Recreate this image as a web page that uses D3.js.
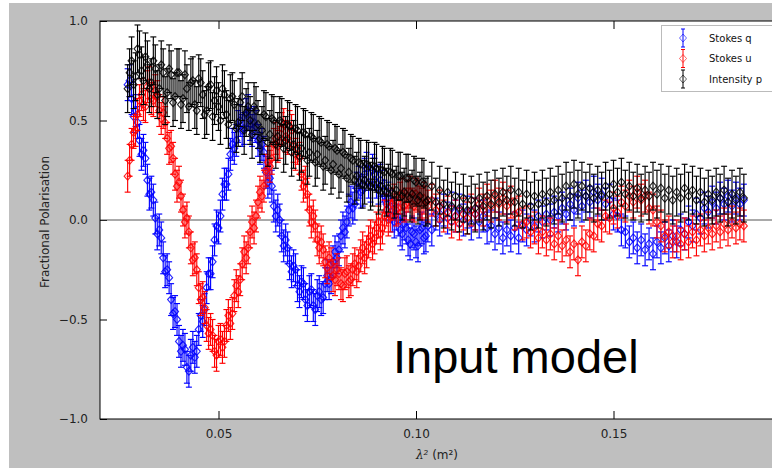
<!DOCTYPE html>
<html>
<head>
<meta charset="utf-8">
<script src="https://cdn.jsdelivr.net/npm/d3@7"></script>
<style>
  body { margin: 0; background: #fff; }
  svg { display: block; }
  .tick text { font-family: "DejaVu Sans", sans-serif; font-size: 12px; fill: #222; }
  .domain { display: none; }
</style>
</head>
<body>
<div class="plot"></div>
<script>
// lambda^2 grid (m^2)
var lam2 = [0.027,0.028,0.029,0.030,0.031,0.032,0.033,0.034,0.035,0.036,0.037,0.038,0.039,0.040,0.041,0.042,0.043,0.044,0.045,0.046,0.047,0.048,0.049,0.050,
  0.051,0.052,0.053,0.054,0.055,0.056,0.057,0.058,0.059,0.060,0.061,0.062,0.063,0.064,0.065,0.066,0.067,0.068,0.069,0.070,0.071,0.072,0.073,0.074,0.075,
  0.076,0.077,0.078,0.079,0.080,0.081,0.082,0.083,0.084,0.085,0.086,0.087,0.088,0.089,0.090,0.091,0.092,0.093,0.094,0.095,0.096,0.097,0.098,0.099,0.100,
  0.101,0.102,0.103,0.104,0.105,0.106,0.107,0.108,0.109,0.110,0.111,0.112,0.113,0.114,0.115,0.116,0.117,0.118,0.119,0.120,0.121,0.122,0.123,0.124,0.125,
  0.126,0.127,0.128,0.129,0.130,0.131,0.132,0.133,0.134,0.135,0.136,0.137,0.138,0.139,0.140,0.141,0.142,0.143,0.144,0.145,0.146,0.147,0.148,0.149,0.150,
  0.151,0.152,0.153,0.154,0.155,0.156,0.157,0.158,0.159,0.160,0.161,0.162,0.163,0.164,0.165,0.166,0.167,0.168,0.169,0.170,0.171,0.172,0.173,0.174,0.175,
  0.176,0.177,0.178,0.179,0.180,0.181,0.182,0.183];

var stokesQ = [0.68,0.61,0.55,0.40,0.35,0.20,0.14,0.01,-0.05,-0.19,-0.25,-0.40,-0.46,-0.61,-0.63,-0.74,-0.68,-0.69,-0.55,-0.51,-0.34,-0.27,-0.10,-0.04,
  0.13,0.18,0.33,0.36,0.47,0.45,0.53,0.48,0.49,0.40,0.38,0.24,0.21,0.07,0.05,-0.08,-0.10,-0.22,-0.23,-0.33,-0.31,-0.40,-0.36,-0.43,-0.38,
  -0.40,-0.32,-0.32,-0.21,-0.19,-0.08,-0.06,0.05,0.06,0.16,0.14,0.23,0.19,0.25,0.19,0.20,0.12,0.11,0.02,0.03,-0.05,-0.02,-0.10,-0.06,-0.11,
  -0.05,-0.09,-0.03,-0.05,0.03,0.00,0.05,0.01,0.06,0.02,0.05,0.00,0.04,-0.02,0.03,-0.01,0.02,-0.04,-0.03,-0.07,-0.04,-0.09,-0.05,-0.08,-0.04,
  -0.09,-0.03,-0.05,0.00,-0.03,0.02,-0.01,0.03,0.00,0.04,0.02,0.06,0.03,0.08,0.05,0.11,0.07,0.12,0.09,0.14,0.10,0.13,0.08,0.10,0.03,
  0.02,-0.05,-0.06,-0.11,-0.09,-0.14,-0.10,-0.15,-0.12,-0.17,-0.11,-0.14,-0.09,-0.13,-0.08,-0.11,-0.05,-0.07,-0.01,-0.03,0.03,0.01,0.06,0.04,0.09,
  0.06,0.11,0.08,0.12,0.07,0.11,0.08,0.10];

var stokesU = [0.22,0.38,0.45,0.60,0.58,0.67,0.61,0.65,0.55,0.54,0.41,0.37,0.23,0.19,0.05,0.01,-0.14,-0.19,-0.34,-0.39,-0.53,-0.55,-0.66,-0.61,
  -0.64,-0.53,-0.52,-0.38,-0.36,-0.22,-0.19,-0.06,-0.04,0.09,0.12,0.25,0.27,0.38,0.37,0.46,0.42,0.47,0.37,0.36,0.23,0.19,0.05,0.02,-0.10,
  -0.11,-0.21,-0.19,-0.28,-0.25,-0.32,-0.27,-0.31,-0.25,-0.26,-0.18,-0.19,-0.11,-0.12,-0.04,-0.07,0.02,0.00,0.08,0.05,0.11,0.07,0.12,0.08,0.13,
  0.09,0.11,0.07,0.10,0.05,0.07,0.02,0.04,-0.01,0.02,-0.02,0.03,0.01,0.05,0.03,0.08,0.05,0.10,0.07,0.12,0.08,0.11,0.07,0.09,0.03,
  0.04,-0.02,-0.01,-0.06,-0.04,-0.09,-0.06,-0.10,-0.07,-0.12,-0.08,-0.13,-0.10,-0.16,-0.12,-0.20,-0.11,-0.13,-0.07,-0.08,-0.02,-0.03,0.02,0.01,0.06,
  0.04,0.09,0.07,0.12,0.09,0.14,0.10,0.12,0.06,0.05,-0.01,-0.03,-0.08,-0.06,-0.11,-0.08,-0.12,-0.07,-0.11,-0.06,-0.10,-0.05,-0.08,-0.04,-0.07,
  -0.03,-0.06,-0.02,-0.05,-0.01,-0.04,-0.02,-0.03];

var intensityP = [0.66,0.80,0.72,0.83,0.70,0.78,0.69,0.76,0.66,0.74,0.64,0.73,0.62,0.74,0.61,0.66,0.69,0.58,0.71,0.63,0.55,0.68,0.60,0.57,
  0.66,0.53,0.61,0.58,0.49,0.62,0.54,0.50,0.57,0.48,0.45,0.52,0.43,0.50,0.42,0.49,0.40,0.47,0.38,0.45,0.36,0.43,0.34,0.41,0.33,
  0.39,0.30,0.37,0.28,0.35,0.26,0.33,0.24,0.30,0.22,0.28,0.20,0.27,0.19,0.26,0.17,0.24,0.16,0.23,0.15,0.22,0.14,0.21,0.13,0.19,
  0.12,0.18,0.10,0.17,0.09,0.15,0.08,0.14,0.07,0.12,0.06,0.11,0.05,0.10,0.06,0.11,0.07,0.12,0.08,0.13,0.09,0.14,0.10,0.15,0.09,
  0.14,0.08,0.13,0.07,0.12,0.08,0.13,0.09,0.14,0.10,0.15,0.11,0.17,0.12,0.18,0.13,0.17,0.12,0.16,0.11,0.15,0.12,0.17,0.13,0.18,
  0.14,0.19,0.13,0.17,0.12,0.16,0.11,0.15,0.12,0.17,0.13,0.16,0.11,0.15,0.10,0.14,0.11,0.16,0.12,0.15,0.10,0.14,0.09,0.13,0.10,
  0.14,0.11,0.15,0.09,0.13,0.10,0.14,0.11];

// extra samples between the above, where the channels are densest (short lambda^2)
var lam2Dense = [0.0275,0.0285,0.0295,0.0305,0.0315,0.0325,0.0335,0.0345,0.0355,0.0365,0.0375,0.0385,0.0395,0.0405,0.0415,0.0425,0.0435,0.0445,0.0455,
  0.0465,0.0475,0.0485,0.0495,0.0505,0.0515,0.0525,0.0535,0.0545,0.0555,0.0565,0.0575,0.0585,0.0595,0.0605,0.0615,0.0625,0.0635,0.0645,0.0655,
  0.0665,0.0675,0.0685,0.0695,0.0705,0.0715,0.0725,0.0735,0.0745,0.0755,0.0765,0.0775,0.0785,0.0795,0.0805,0.0815,0.0825,0.0835,0.0845,0.0855,
  0.0865,0.0875,0.0885,0.0895,0.0905,0.0915,0.0925,0.0935,0.0945,0.0955,0.0965,0.0975,0.0985,0.0995,0.1005,0.1015,0.1025];

var stokesQDense = [0.70,0.52,0.49,0.33,0.31,0.13,0.10,-0.07,-0.09,-0.26,-0.29,-0.47,-0.50,-0.66,-0.65,-0.76,-0.64,-0.66,-0.48,
  -0.45,-0.27,-0.21,-0.03,0.02,0.18,0.23,0.38,0.40,0.50,0.46,0.55,0.45,0.47,0.36,0.34,0.19,0.17,0.02,0.00,
  -0.13,-0.14,-0.26,-0.25,-0.36,-0.32,-0.43,-0.35,-0.45,-0.36,-0.39,-0.28,-0.29,-0.16,-0.15,-0.04,-0.01,0.09,0.08,0.19,
  0.15,0.26,0.17,0.23,0.16,0.17,0.08,0.07,-0.01,0.00,-0.07,-0.04,-0.12,-0.07,-0.13,-0.04,-0.08];

var stokesUDense = [0.30,0.44,0.53,0.63,0.57,0.69,0.60,0.62,0.51,0.49,0.36,0.31,0.17,0.12,-0.01,-0.06,-0.20,-0.25,-0.40,
  -0.44,-0.57,-0.58,-0.68,-0.60,-0.61,-0.48,-0.47,-0.33,-0.30,-0.16,-0.14,-0.01,0.02,0.14,0.17,0.29,0.31,0.41,0.39,
  0.48,0.41,0.45,0.33,0.31,0.17,0.13,-0.01,-0.03,-0.14,-0.15,-0.24,-0.22,-0.30,-0.27,-0.33,-0.26,-0.30,-0.22,-0.23,
  -0.14,-0.16,-0.08,-0.09,-0.01,-0.04,0.05,0.02,0.10,0.06,0.13,0.08,0.14,0.07,0.12,0.08,0.09];

var intensityPDense = [0.74,0.68,0.86,0.75,0.82,0.66,0.80,0.63,0.78,0.60,0.76,0.59,0.74,0.58,0.73,0.57,0.70,0.55,0.69,
  0.53,0.67,0.52,0.65,0.50,0.63,0.48,0.62,0.46,0.59,0.45,0.57,0.43,0.55,0.41,0.53,0.39,0.51,0.38,0.50,
  0.36,0.48,0.34,0.46,0.32,0.44,0.30,0.42,0.29,0.40,0.27,0.38,0.25,0.36,0.23,0.34,0.21,0.31,0.20,0.29,
  0.18,0.28,0.17,0.27,0.15,0.25,0.14,0.24,0.13,0.22,0.12,0.21,0.11,0.20,0.10,0.19,0.09];

var seriesNames = ["Stokes q", "Stokes u", "Intensity p"];
var seriesColors = ["#0000ff", "#ff0000", "#000000"];
var seriesErr = [0.08, 0.08, 0.12];
var xTicks = [0.05, 0.10, 0.15];
var yTicks = [-1.0, -0.5, 0.0, 0.5, 1.0];

var W = 772, H = 469;
var x = d3.scaleLinear().domain([0.02, 0.20]).range([100, 811]);
var y = d3.scaleLinear().domain([-1, 1]).range([419, 21]);

var svg = d3.select(".plot").append("svg").attr("width", W).attr("height", H);

// figure background
svg.append("rect").attr("x", 9).attr("y", 3).attr("width", W - 9).attr("height", 465).attr("fill", "#bfbfbf");
svg.append("rect").attr("x", 100).attr("y", 21).attr("width", 711).attr("height", 398).attr("fill", "#fff");

// axes, ticks inside
svg.append("g").attr("transform", "translate(0,419)")
  .call(d3.axisBottom(x).tickValues(xTicks).tickSize(-8).tickPadding(10).tickFormat(d3.format(".2f")));
svg.append("g").attr("transform", "translate(0,21)")
  .call(d3.axisTop(x).tickValues(xTicks).tickSize(-8).tickFormat(""));
svg.append("g").attr("transform", "translate(100,0)")
  .call(d3.axisLeft(y).tickValues(yTicks).tickSize(-7).tickPadding(12).tickFormat(function(d){ return d3.format(".1f")(d).replace("-", "\u2212"); }));

// zero line
svg.append("line").attr("x1", 100).attr("x2", 811).attr("y1", y(0)).attr("y2", y(0))
  .attr("stroke", "#555").attr("stroke-width", 1);

function diamond(cx, cy) {
  return "M" + cx + "," + (cy - 4) + "L" + (cx + 3.5) + "," + cy + "L" + cx + "," + (cy + 4) + "L" + (cx - 3.5) + "," + cy + "Z";
}

var plot = svg.append("g");
[[stokesQ, stokesQDense], [stokesU, stokesUDense], [intensityP, intensityPDense]].forEach(function(pair, k) {
  var data = pair[0].map(function(v, i) { return {x: lam2[i], v: v, e: seriesErr[k]}; })
    .concat(pair[1].map(function(v, i) { return {x: lam2Dense[i], v: v, e: seriesErr[k]}; }))
    .sort(function(a, b) { return a.x - b.x; });
  var g = plot.append("g").attr("stroke", seriesColors[k]).attr("fill", "none").attr("stroke-width", 1.15);
  var pt = g.selectAll("g").data(data).enter().append("g");
  pt.append("line")
    .attr("x1", function(d){ return x(d.x); }).attr("x2", function(d){ return x(d.x); })
    .attr("y1", function(d){ return y(d.v - d.e); }).attr("y2", function(d){ return y(d.v + d.e); });
  pt.append("line")
    .attr("x1", function(d){ return x(d.x) - 3; }).attr("x2", function(d){ return x(d.x) + 3; })
    .attr("y1", function(d){ return y(d.v + d.e); }).attr("y2", function(d){ return y(d.v + d.e); });
  pt.append("line")
    .attr("x1", function(d){ return x(d.x) - 3; }).attr("x2", function(d){ return x(d.x) + 3; })
    .attr("y1", function(d){ return y(d.v - d.e); }).attr("y2", function(d){ return y(d.v - d.e); });
  pt.append("path")
    .attr("d", function(d){ return diamond(x(d.x), y(d.v)); })
    .attr("stroke-opacity", 0.85);
});

// frame
svg.append("rect").attr("x", 100).attr("y", 21).attr("width", 711).attr("height", 398)
  .attr("fill", "none").attr("stroke", "#000").attr("stroke-width", 1);

// legend
var leg = svg.append("g");
leg.append("rect").attr("x", 661.5).attr("y", 25.5).attr("width", 140).attr("height", 66)
  .attr("fill", "#fff").attr("stroke", "#bbb");
seriesNames.forEach(function(name, k) {
  var cy = 38 + k * 20.5, cx = 683;
  var lg = leg.append("g").attr("stroke", seriesColors[k]).attr("fill", "none");
  lg.append("line").attr("x1", cx).attr("x2", cx).attr("y1", cy - 9).attr("y2", cy + 9);
  lg.append("line").attr("x1", cx - 2).attr("x2", cx + 2).attr("y1", cy - 9).attr("y2", cy - 9);
  lg.append("line").attr("x1", cx - 2).attr("x2", cx + 2).attr("y1", cy + 9).attr("y2", cy + 9);
  lg.append("path").attr("d", diamond(cx, cy)).attr("stroke-opacity", 0.6);
  leg.append("text").attr("x", 709).attr("y", cy + 3.5).text(name)
    .attr("font-family", "DejaVu Sans, sans-serif").attr("font-size", 10).attr("fill", "#111");
});

// axis titles
svg.append("text").attr("transform", "translate(49,222) rotate(-90)").attr("text-anchor", "middle")
  .attr("font-family", "DejaVu Sans, sans-serif").attr("font-size", 12).attr("fill", "#222")
  .text("Fractional Polarisation");
var xt = svg.append("text").attr("x", 437).attr("y", 459).attr("text-anchor", "middle")
  .attr("font-family", "DejaVu Sans, sans-serif").attr("font-size", 12).attr("fill", "#222");
xt.append("tspan").attr("font-family", "DejaVu Serif, serif").attr("font-style", "italic").text("\u03bb\u00b2");
xt.append("tspan").text(" (m\u00b2)");

// overlay label
svg.append("text").attr("x", 393).attr("y", 373)
  .attr("font-family", "Liberation Sans, Arial, sans-serif").attr("font-size", 47).attr("fill", "#000")
  .text("Input model");
</script>
</body>
</html>
